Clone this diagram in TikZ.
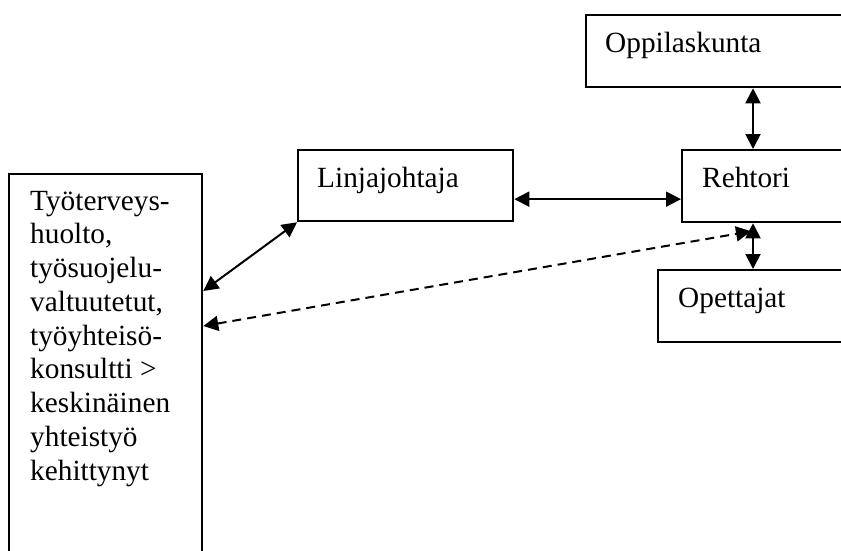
\documentclass[tikz,border=0pt]{standalone}
\usepackage{fontspec}
\setmainfont{Liberation Serif}
\usetikzlibrary{arrows.meta}
\begin{document}
\begin{tikzpicture}[x=1pt, y=-1pt,
  box/.style={draw, line width=2.3pt, rectangle, inner sep=0pt, anchor=north west},
  lbl/.style={inner sep=0pt, anchor=base west, font=\fontsize{29.3}{33.75}\selectfont},
  link/.style={line width=2pt, {Triangle[length=15pt,width=15pt]}-{Triangle[length=15pt,width=15pt]}},
  dashlink/.style={link, dash pattern=on 9pt off 6pt}]
  \useasboundingbox (0,0) rectangle (841,551);
  \clip (0,0) rectangle (841,551);
  % boxes
  \node[box, minimum width=193pt, minimum height=420pt] (left) at (8,173) {};
  \node[box, minimum width=215pt, minimum height=71pt] (lin) at (297,149) {};
  \node[box, minimum width=300pt, minimum height=72pt] (opp) at (585,14) {};
  \node[box, minimum width=200pt, minimum height=72pt] (reh) at (681,149) {};
  \node[box, minimum width=220pt, minimum height=72pt] (ope) at (657,269) {};
  % texts (a multi-line node sits on its last baseline)
  \node[lbl, align=left] (leftT) at ([shift={(22,307)}]left.north west)
    {Työterveys-\\huolto,\\työsuojelu-\\valtuutetut,\\työyhteisö-\\konsultti >\\keskinäinen\\yhteistyö\\kehittynyt};
  \node[lbl] (linT) at ([shift={(20,38)}]lin.north west) {Linjajohtaja};
  \node[lbl] (oppT) at ([shift={(20,39)}]opp.north west) {Oppilaskunta};
  \node[lbl] (rehT) at ([shift={(21,38)}]reh.north west) {Rehtori};
  \node[lbl] (opeT) at ([shift={(21,38)}]ope.north west) {Opettajat};
  % connectors
  \draw[link] ([xshift=168pt]opp.south west) -- ([xshift=72pt]reh.north west);
  \draw[link] ([yshift=-13.5pt]lin.east) -- ([yshift=-13pt]reh.west);
  \draw[link] ([yshift=-118pt]left.north east) -- (lin.south west);
  \draw[link] ([xshift=72pt]reh.south west) -- ([xshift=96pt]ope.north west);
  \draw[dashlink] ([yshift=-153pt]left.north east) -- ([xshift=70pt,yshift=-8pt]reh.south west);
\end{tikzpicture}
\end{document}
